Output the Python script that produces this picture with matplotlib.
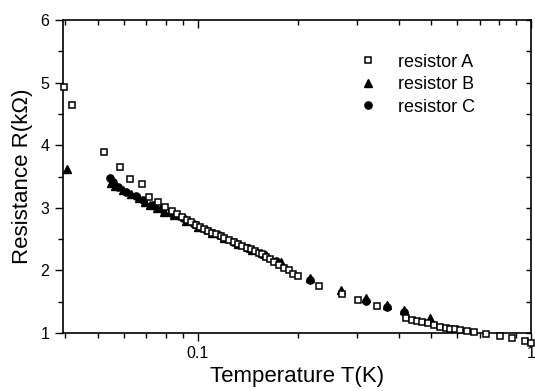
import matplotlib
matplotlib.use("Agg")
import matplotlib.pyplot as plt
from matplotlib.lines import TICKDOWN, TICKLEFT
from matplotlib.ticker import FixedLocator, LogLocator, NullFormatter, MultipleLocator

plt.rcParams["font.family"] = ["Liberation Sans", "DejaVu Sans"]

# resistor A (open squares)
temp_a = [0.0397, 0.042, 0.0524, 0.0583, 0.0626, 0.068, 0.0712, 0.0759, 0.0798,
          0.0835, 0.0865, 0.0895, 0.0925, 0.0955, 0.0985, 0.1015, 0.1045, 0.1075,
          0.1105, 0.1135, 0.117, 0.120, 0.124, 0.128, 0.132, 0.136, 0.140, 0.144,
          0.148, 0.152, 0.156, 0.160, 0.164, 0.169, 0.175, 0.181, 0.187, 0.193,
          0.200, 0.231, 0.271, 0.302, 0.3435, 0.4196, 0.4395, 0.455, 0.471, 0.489,
          0.510, 0.531, 0.553, 0.572, 0.592, 0.613, 0.642, 0.672, 0.733, 0.808,
          0.875, 0.96, 1.0]
res_a = [4.93, 4.65, 3.89, 3.65, 3.455, 3.375, 3.17, 3.09, 3.01,
         2.95, 2.90, 2.85, 2.81, 2.77, 2.73, 2.69, 2.66, 2.63,
         2.60, 2.58, 2.55, 2.52, 2.49, 2.46, 2.42, 2.39, 2.36, 2.34,
         2.31, 2.28, 2.26, 2.22, 2.19, 2.14, 2.09, 2.04, 2.00, 1.95,
         1.91, 1.755, 1.62, 1.53, 1.43, 1.244, 1.208, 1.196, 1.18, 1.155,
         1.128, 1.10, 1.085, 1.069, 1.059, 1.048, 1.032, 1.02, 0.98, 0.95,
         0.93, 0.87, 0.85]

# resistor B (filled triangles)
temp_b = [0.0405, 0.0549, 0.0562, 0.0594, 0.0628, 0.0664, 0.0695, 0.0719, 0.0755,
          0.0793, 0.085, 0.092, 0.100, 0.110, 0.120, 0.132, 0.145, 0.160, 0.178,
          0.217, 0.268, 0.320, 0.370, 0.415, 0.496]
res_b = [3.62, 3.39, 3.35, 3.28, 3.22, 3.15, 3.10, 3.04, 2.99,
         2.94, 2.88, 2.79, 2.69, 2.60, 2.52, 2.43, 2.33, 2.24, 2.13,
         1.88, 1.69, 1.56, 1.45, 1.37, 1.24]

# resistor C (filled circles)
temp_c = [0.0543, 0.0555, 0.0575, 0.061, 0.065, 0.0685, 0.0735, 0.078, 0.083,
          0.090, 0.097, 0.106, 0.116, 0.127, 0.140, 0.155, 0.172, 0.217, 0.320,
          0.370, 0.415]
res_c = [3.47, 3.41, 3.33, 3.26, 3.19, 3.12, 3.05, 2.98, 2.92,
         2.84, 2.75, 2.65, 2.56, 2.46, 2.36, 2.26, 2.15, 1.85, 1.52,
         1.42, 1.34]

fig = plt.figure(figsize=(5.35, 3.91), dpi=100)
ax = fig.add_axes([0.118, 0.148, 0.875, 0.801])

ax.plot(temp_c, res_c, "o", ms=5.2, mfc="black", mec="black", ls="none",
        clip_on=False, label="resistor C", zorder=3)
ax.plot(temp_b, res_b, "^", ms=5.8, mfc="black", mec="black", ls="none",
        clip_on=False, label="resistor B", zorder=3)
ax.plot(temp_a, res_a, "s", ms=5.0, mfc="white", mec="black", mew=1.1, ls="none",
        clip_on=False, label="resistor A", zorder=4)

ax.set_xscale("log")
ax.set_xlim(0.0394, 1.0)
ax.set_ylim(1, 6)

ax.xaxis.set_major_locator(FixedLocator([0.1, 1]))
ax.set_xticklabels(["0.1", "1"])
ax.xaxis.set_minor_locator(LogLocator(base=10, subs=range(2, 10)))
ax.xaxis.set_minor_formatter(NullFormatter())
ax.yaxis.set_major_locator(MultipleLocator(1))
ax.yaxis.set_minor_locator(MultipleLocator(0.5))

ax.tick_params(which="both", direction="out", top=True, right=True,
               labelsize=11.5, width=1.0)
ax.tick_params(axis="x", which="both", pad=3)
ax.tick_params(axis="y", which="both", pad=4)
ax.tick_params(which="major", length=6)
ax.tick_params(which="minor", length=3.5)
for s in ax.spines.values():
    s.set_linewidth(1.2)

# mirror ticks on top and right point inward
for t in ax.xaxis.get_major_ticks() + ax.xaxis.get_minor_ticks():
    t.tick2line.set_marker(TICKDOWN)
for t in ax.yaxis.get_major_ticks() + ax.yaxis.get_minor_ticks():
    t.tick2line.set_marker(TICKLEFT)
    t.tick2line.set_markersize(3.5)

ax.set_xlabel("Temperature T(K)", fontsize=16, labelpad=4)
ax.set_ylabel("Resistance R(k\u03a9)", fontsize=16, labelpad=5)

handles, labels = ax.get_legend_handles_labels()
ax.legend(handles[::-1], labels[::-1], loc="upper left", frameon=False,
          fontsize=13, bbox_to_anchor=(0.632, 0.892), borderpad=0,
          borderaxespad=0, handletextpad=1.15, handlelength=1.0,
          labelspacing=0.3)

fig.savefig("out.png", dpi=100)
